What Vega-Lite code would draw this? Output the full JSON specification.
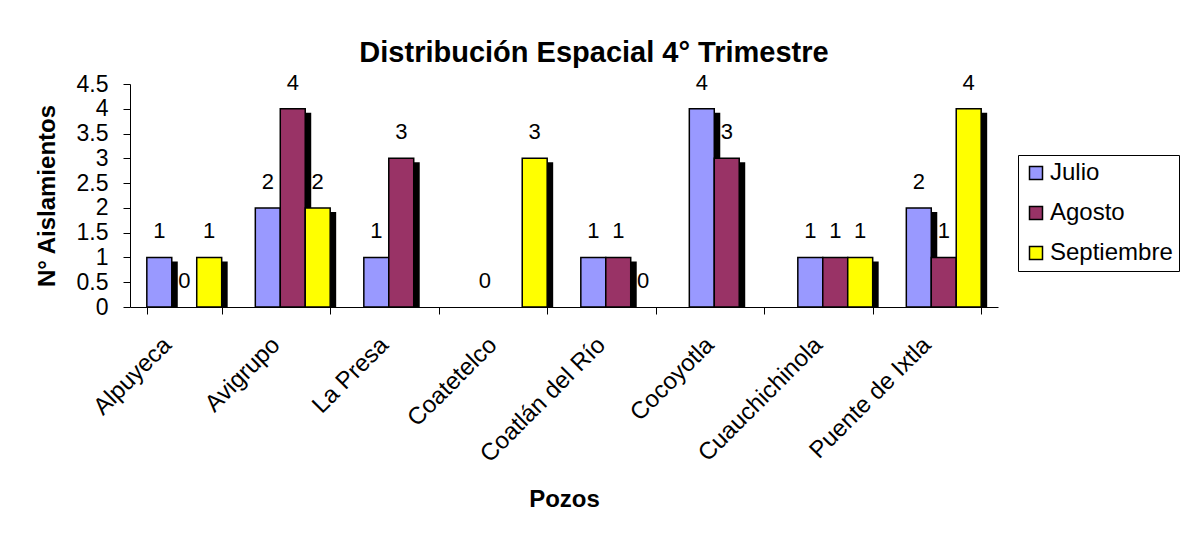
{
  "$schema": "https://vega.github.io/schema/vega-lite/v6.json",
  "width": 868,
  "height": 223,
  "autosize": {"type": "none"},
  "padding": {"left": 130, "top": 84, "right": 190, "bottom": 231},
  "background": "white",
  "config": {
    "font": "Liberation Sans",
    "view": {"stroke": null}
  },
  "title": {
    "text": "Distribución Espacial 4° Trimestre",
    "font": "Liberation Sans",
    "fontSize": 29,
    "fontWeight": "bold",
    "color": "black",
    "dx": 30,
    "offset": 4
  },
  "data": {
    "values": [
      {"pozo": "Alpuyeca", "mes": "Julio", "valor": 1},
      {"pozo": "Alpuyeca", "mes": "Agosto", "valor": 0},
      {"pozo": "Alpuyeca", "mes": "Septiembre", "valor": 1},
      {"pozo": "Avigrupo", "mes": "Julio", "valor": 2},
      {"pozo": "Avigrupo", "mes": "Agosto", "valor": 4},
      {"pozo": "Avigrupo", "mes": "Septiembre", "valor": 2},
      {"pozo": "La Presa", "mes": "Julio", "valor": 1},
      {"pozo": "La Presa", "mes": "Agosto", "valor": 3},
      {"pozo": "Coatetelco", "mes": "Julio", "valor": 0},
      {"pozo": "Coatetelco", "mes": "Septiembre", "valor": 3},
      {"pozo": "Coatlán del Río", "mes": "Julio", "valor": 1},
      {"pozo": "Coatlán del Río", "mes": "Agosto", "valor": 1},
      {"pozo": "Coatlán del Río", "mes": "Septiembre", "valor": 0},
      {"pozo": "Cocoyotla", "mes": "Julio", "valor": 4},
      {"pozo": "Cocoyotla", "mes": "Agosto", "valor": 3},
      {"pozo": "Cuauchichinola", "mes": "Julio", "valor": 1},
      {"pozo": "Cuauchichinola", "mes": "Agosto", "valor": 1},
      {"pozo": "Cuauchichinola", "mes": "Septiembre", "valor": 1},
      {"pozo": "Puente de Ixtla", "mes": "Julio", "valor": 2},
      {"pozo": "Puente de Ixtla", "mes": "Agosto", "valor": 1},
      {"pozo": "Puente de Ixtla", "mes": "Septiembre", "valor": 4}
    ]
  },
  "encoding": {
    "x": {
      "field": "pozo",
      "type": "nominal",
      "scale": {
        "domain": ["Alpuyeca", "Avigrupo", "La Presa", "Coatetelco", "Coatlán del Río", "Cocoyotla", "Cuauchichinola", "Puente de Ixtla"],
        "paddingInner": 0.31,
        "paddingOuter": 0.155
      },
      "axis": {
        "title": "Pozos",
        "titleFont": "Liberation Sans",
        "titleFontSize": 24,
        "titleFontWeight": "bold",
        "titleColor": "black",
        "titlePadding": 21,
        "labelAngle": -45,
        "labelAlign": "right",
        "labelBaseline": "middle",
        "labelFont": "Liberation Sans",
        "labelFontSize": 24,
        "labelColor": "black",
        "labelPadding": 27,
        "labelOffset": -17,
        "tickBand": "extent",
        "tickSize": 7,
        "tickColor": "black",
        "domainColor": "black",
        "labelOverlap": false
      }
    },
    "xOffset": {
      "field": "mes",
      "type": "nominal",
      "scale": {"type": "band", "domain": ["Julio", "Agosto", "Septiembre"], "range": [0, 74.865], "paddingInner": 0, "paddingOuter": 0}
    },
    "y": {
      "field": "valor",
      "type": "quantitative",
      "scale": {"domain": [0, 4.5], "nice": false},
      "axis": {
        "title": "N° Aislamientos",
        "titleFont": "Liberation Sans",
        "titleFontSize": 24,
        "titleFontWeight": "bold",
        "titleColor": "black",
        "titlePadding": 17,
        "values": [0, 0.5, 1, 1.5, 2, 2.5, 3, 3.5, 4, 4.5],
        "format": ".1~f",
        "labelFont": "Liberation Sans",
        "labelFontSize": 23,
        "labelColor": "black",
        "labelPadding": 15,
        "labelOverlap": false,
        "tickSize": 7,
        "tickColor": "black",
        "domainColor": "black",
        "grid": false
      }
    }
  },
  "resolve": {"scale": {"xOffset": "independent"}},
  "layer": [
    {
      "transform": [{"filter": "datum.valor > 0"}],
      "mark": {"type": "bar", "color": "black", "yOffset": 4, "clip": true},
      "encoding": {
        "xOffset": {
          "field": "mes",
          "type": "nominal",
          "scale": {"type": "band", "domain": ["Julio", "Agosto", "Septiembre"], "range": [6, 80.865], "paddingInner": 0, "paddingOuter": 0}
        }
      }
    },
    {
      "transform": [{"filter": "datum.valor > 0"}],
      "mark": {"type": "bar", "stroke": "black", "strokeWidth": 1.5},
      "encoding": {
        "color": {
          "field": "mes",
          "type": "nominal",
          "scale": {"domain": ["Julio", "Agosto", "Septiembre"], "range": ["#9999FF", "#993366", "#FFFF00"]},
          "legend": {
            "title": null,
            "orient": "none",
            "legendX": 888,
            "legendY": 71,
            "strokeColor": "black",
            "padding": 6,
            "symbolType": "square",
            "symbolSize": 169,
            "symbolStrokeColor": "black",
            "symbolStrokeWidth": 1.5,
            "labelFont": "Liberation Sans",
            "labelFontSize": 24,
            "labelColor": "black",
            "rowPadding": 16,
            "labelOffset": 2
          }
        }
      }
    },
    {
      "mark": {"type": "text", "font": "Liberation Sans", "fontSize": 22, "color": "black", "baseline": "middle", "dy": -26},
      "encoding": {"text": {"field": "valor", "type": "quantitative"}}
    }
  ]
}
